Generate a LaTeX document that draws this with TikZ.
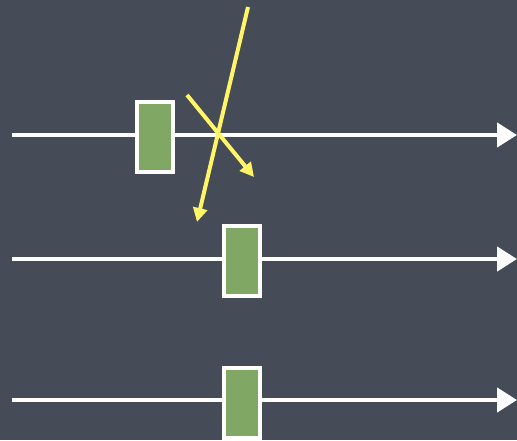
\documentclass[tikz,border=0pt]{standalone}
\usetikzlibrary{arrows.meta}
\definecolor{slate}{HTML}{454B57}
\definecolor{boxgreen}{HTML}{80A764}
\definecolor{ray}{HTML}{FFF566}
\begin{document}
\begin{tikzpicture}[x=1pt,y=-1pt]

\tikzstyle{track} = [white, line width=4.5pt, -{Triangle[length=20pt,width=24pt]}]
\tikzstyle{block} = [rectangle, minimum width=36pt, minimum height=70pt, inner sep=0pt, draw=white, line width=4pt, fill=boxgreen]
\tikzstyle{beam} = [ray, line width=4pt, -{Triangle[length=14pt,width=14pt]}]

\fill[slate] (0,0) rectangle (517,440);
\useasboundingbox (0,0) rectangle (517,440);

\coordinate (s1) at (12,135);
\coordinate (e1) at (517,135);
\coordinate (s2) at (12,259);
\coordinate (e2) at (517,259);
\coordinate (s3) at (12,400);
\coordinate (e3) at (517,400);

\draw [track] (s1) -- (e1);
\draw [track] (s2) -- (e2);
\draw [track] (s3) -- (e3);

\node (b1) [block] at (155,137) {};
\node (b2) [block] at (242,261) {};
\node (b3) [block] at (242,403) {};

\coordinate (r1) at (248,7);
\coordinate (t1) at (197,222);
\coordinate (r2) at (187,95);
\coordinate (t2) at (254,177);

\draw [beam] (r1) -- (t1);
\draw [beam] (r2) -- (t2);

\end{tikzpicture}
\end{document}
